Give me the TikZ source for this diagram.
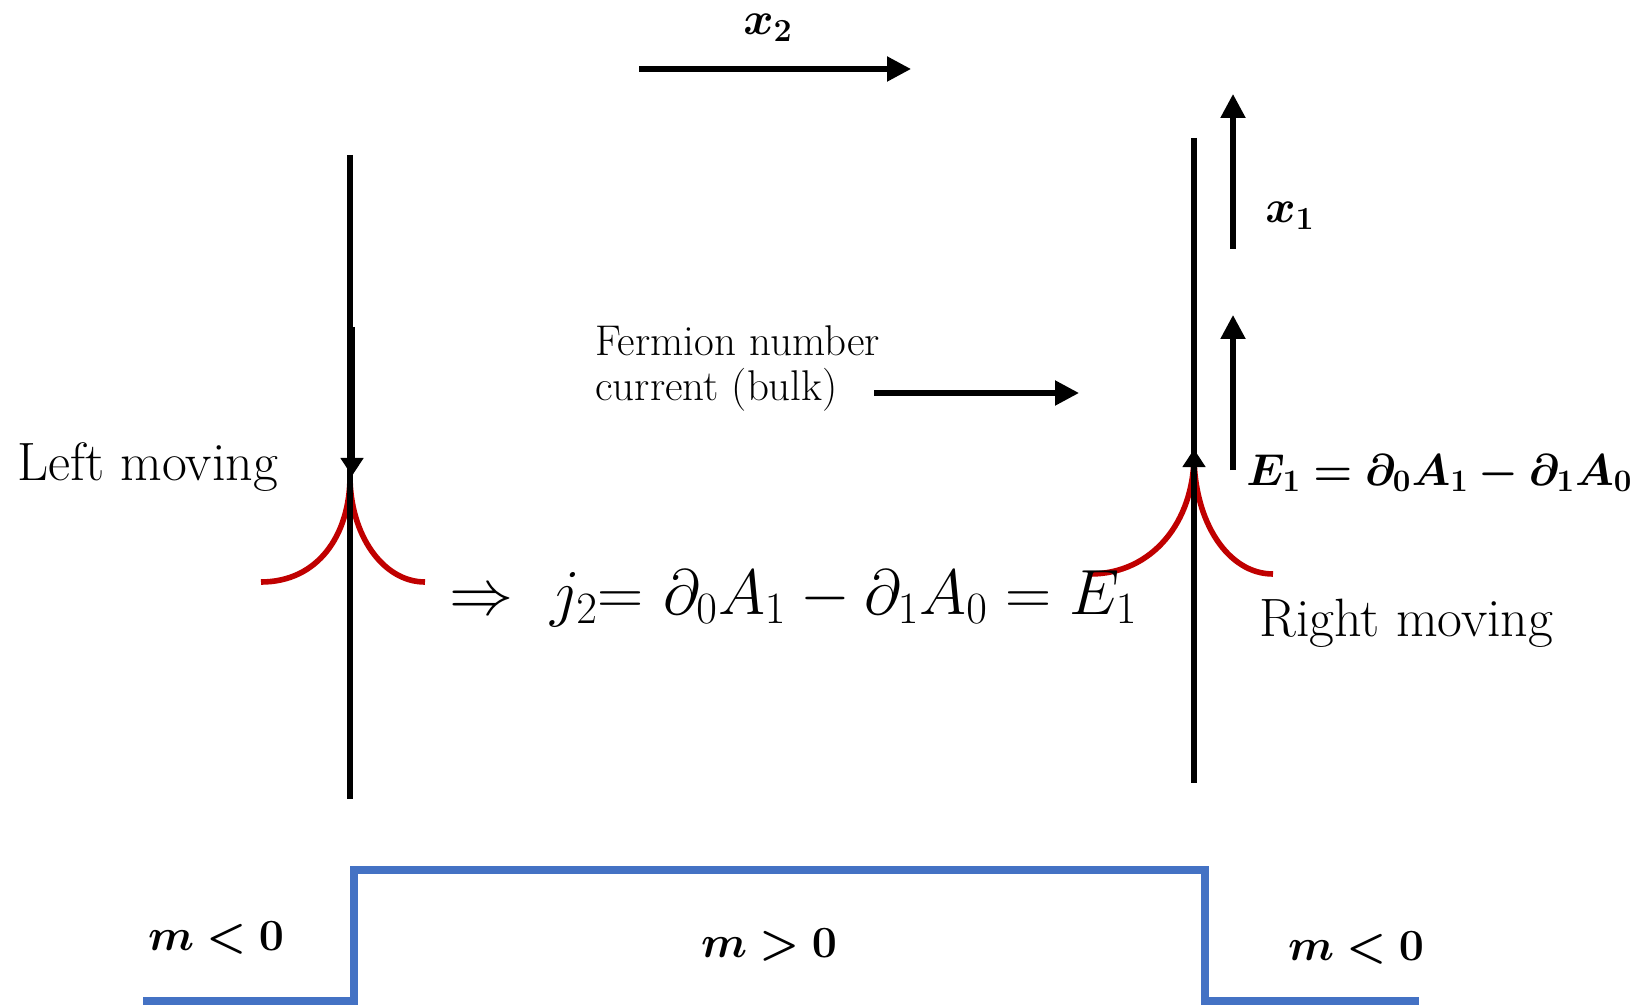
\RequirePackage{fix-cm}
\documentclass[tikz,border=0pt]{standalone}
\usepackage{bm}
\usetikzlibrary{arrows.meta}
\definecolor{curvered}{HTML}{C00000}
\definecolor{stepblue}{HTML}{4472C4}
\tikzset{
  wall/.style={line width=2.6pt, line cap=butt},
  bigarrow/.style={line width=2.6pt, -{Triangle[length=12pt,width=12pt]}},
  tiparrow/.style={line width=2.6pt, -{Triangle[length=9pt,width=11pt]}},
  redcurve/.style={draw=curvered, line width=2.8pt},
  stepline/.style={draw=stepblue, line width=4.2pt},
  lbl/.style={inner sep=0pt},
}
\begin{document}
\begin{tikzpicture}[x=0.5pt,y=-0.5pt]
\useasboundingbox (0,0) rectangle (1638,1005);
% coordinates
\coordinate (x2s) at (639,69);
\coordinate (x2e) at (911,69);
\coordinate (Ltop) at (350,155);
\coordinate (Lbot) at (350,799);
\coordinate (Lseg) at (352,327);
\coordinate (Ltip) at (352,476);
\coordinate (Rtop) at (1194,138);
\coordinate (Rbot) at (1194,783);
\coordinate (Rseg) at (1194,600);
\coordinate (Rtip) at (1194,449);
\coordinate (x1s) at (1233,249);
\coordinate (x1e) at (1233,94);
\coordinate (E1s) at (1233,470);
\coordinate (E1e) at (1233,315);
\coordinate (fcs) at (874,393);
\coordinate (fce) at (1079,393);
% red curves
\draw[redcurve] (261,582) .. controls (318,582) and (350,535) .. (350,476)
   .. controls (350,535) and (383,582) .. (425,582);
\draw[redcurve] (1090,574) .. controls (1152,574) and (1194,522) .. (1194,455)
   .. controls (1194,522) and (1228,574) .. (1273,574);
% walls
\draw[wall] (Ltop) -- (Lbot);
\draw[tiparrow] (Lseg) -- (Ltip);
\draw[wall] (Rtop) -- (Rbot);
\draw[tiparrow] (Rseg) -- (Rtip);
% arrows
\draw[bigarrow] (x2s) -- (x2e);
\draw[bigarrow] (x1s) -- (x1e);
\draw[bigarrow] (E1s) -- (E1e);
\draw[bigarrow] (fcs) -- (fce);
% step
\draw[stepline] (143,1001) -- (354,1001) -- (354,870) -- (1205,870) -- (1205,1001) -- (1419,1001);
% labels
\node[lbl,font=\fontsize{23}{26}\selectfont] (x2lab) at (768,28) {$\bm{x_2}$};
\node[lbl,font=\fontsize{23}{26}\selectfont] (x1lab) at (1290,216) {$\bm{x_1}$};
\node[lbl,anchor=west,font=\fontsize{22.3}{26}\selectfont] (E1lab) at (1246,473) {$\bm{E_1 = \partial_0 A_1 - \partial_1 A_0}$};
\node[lbl,anchor=west,align=left,font=\fontsize{21.5}{22.5}\selectfont] (fermion) at (595,368) {Fermion number\\current (bulk)};
\node[lbl,anchor=west,font=\fontsize{27}{30}\selectfont] (left) at (17,467) {Left moving};
\node[lbl,anchor=west,font=\fontsize{27}{30}\selectfont] (right) at (1259,623) {Right moving};
\node[lbl,anchor=west,font=\fontsize{32}{36}\selectfont] (maineq) at (449,598) {$\Rightarrow\ j_2{=}\ \partial_0A_1 - \partial_1A_0 = E_1$};
\node[lbl,font=\fontsize{22.3}{26}\selectfont] (mL) at (216,938) {$\bm{m<0}$};
\node[lbl,font=\fontsize{22.3}{26}\selectfont] (mC) at (769,945) {$\bm{m>0}$};
\node[lbl,font=\fontsize{22.3}{26}\selectfont] (mR) at (1356,948) {$\bm{m<0}$};
\end{tikzpicture}
\end{document}
